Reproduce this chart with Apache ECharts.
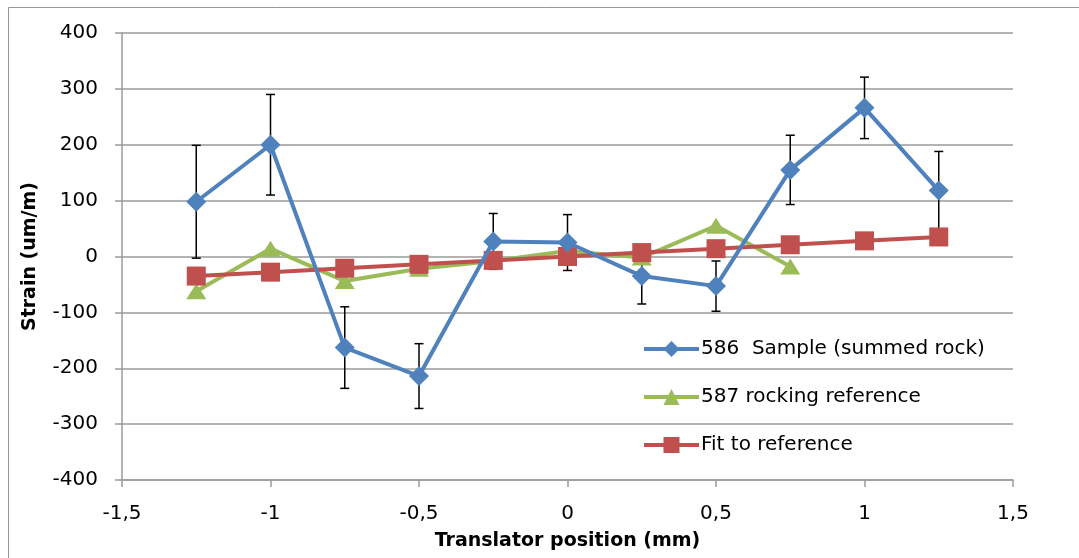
<!DOCTYPE html>
<html><head><meta charset="utf-8">
<script src="https://cdn.jsdelivr.net/npm/echarts@6/dist/echarts.min.js"></script>
<style>html,body{margin:0;padding:0;background:#fff}#c{width:1079px;height:558px}</style>
</head><body><div id="c"></div>
<script>
const positions = [-1.25, -1, -0.75, -0.5, -0.25, 0, 0.25, 0.5, 0.75, 1, 1.25];
const sampleValues = [98, 200, -163, -214, 27, 25, -35, -53, 155, 266, 118];
const sampleErrors = [101, 90, 73, 58, 50, 50, 50, 45, 62, 55, 70];
const refPositions = [-1.25, -1, -0.75, -0.5, -0.25, 0, 0.25, 0.5, 0.75];
const refValues = [-62, 14, -44, -22, -8, 10, -2, 55, -18];
const fitValues = [-35, -28, -21, -14, -7, 0, 7, 14, 21, 28, 35];
const yTicks = { min: -400, max: 400, step: 100 };
const xTicks = { min: -1.5, max: 1.5, step: 0.5 };
const names = ['586  Sample (summed rock)', '587 rocking reference', 'Fit to reference'];

const FONT = 'DejaVu Sans';
const chart = echarts.init(document.getElementById('c'), null, {renderer: 'canvas'});
const pair = (xs, ys) => xs.map((x, i) => [x, ys[i]]);
const errData = positions.map((x, i) => [x, sampleValues[i], sampleErrors[i]]);

chart.setOption({
  animation: false,
  backgroundColor: '#fff',
  textStyle: {fontFamily: FONT, color: '#000'},
  graphic: [{type: 'rect', shape: {x: 8.5, y: 7.5, width: 1200, height: 700},
    style: {fill: 'none', stroke: '#9a9a9a', lineWidth: 1}, silent: true, z: -10}],
  grid: {left: 122, right: 66, top: 33, bottom: 78, containLabel: false, outerBoundsMode: 'none'},
  legend: {
    data: names.map(n => ({name: n})),
    orient: 'vertical', left: 642, top: 339, padding: 0,
    itemWidth: 55, itemHeight: 20, itemGap: 28,
    lineStyle: {width: 4},
    textStyle: {fontFamily: FONT, fontSize: 20, color: '#000', padding: [0, 0, 0, -3]}
  },
  xAxis: {
    type: 'value', min: xTicks.min, max: xTicks.max, interval: xTicks.step,
    name: 'Translator position (mm)', nameLocation: 'middle', nameGap: 52,
    nameTextStyle: {fontFamily: FONT, fontSize: 19, fontWeight: 'bold', color: '#000'},
    axisLine: {onZero: false, lineStyle: {color: '#9a9a9a', width: 1.5}},
    axisTick: {show: true, length: 7, lineStyle: {color: '#9a9a9a', width: 1.5}},
    axisLabel: {fontFamily: FONT, fontSize: 20, color: '#000', margin: 24,
      formatter: v => String(v).replace('.', ',')},
    splitLine: {show: false}
  },
  yAxis: {
    type: 'value', min: yTicks.min, max: yTicks.max, interval: yTicks.step,
    name: 'Strain (um/m)', nameLocation: 'middle', nameGap: 82, nameRotate: 90,
    nameTextStyle: {fontFamily: FONT, fontSize: 19, fontWeight: 'bold', color: '#000'},
    axisLine: {show: true, onZero: false, lineStyle: {color: '#9a9a9a', width: 1.5}},
    axisTick: {show: true, length: 7, lineStyle: {color: '#9a9a9a', width: 1.5}},
    axisLabel: {fontFamily: FONT, fontSize: 20, color: '#000', margin: 24},
    splitLine: {show: true, lineStyle: {color: '#9a9a9a', width: 1.5}}
  },
  series: [
    {
      type: 'custom', name: 'err', z: 1, silent: true,
      data: errData,
      renderItem: (params, api) => {
        const x = api.value(0), y = api.value(1), e = api.value(2);
        const top = api.coord([x, y + e]);
        const bot = api.coord([x, y - e]);
        const cw = 4.5;
        const st = {stroke: '#000', lineWidth: 1.5};
        return {type: 'group', children: [
          {type: 'line', shape: {x1: top[0], y1: top[1], x2: bot[0], y2: bot[1]}, style: st},
          {type: 'line', shape: {x1: top[0] - cw, y1: top[1], x2: top[0] + cw, y2: top[1]}, style: st},
          {type: 'line', shape: {x1: bot[0] - cw, y1: bot[1], x2: bot[0] + cw, y2: bot[1]}, style: st}
        ]};
      }
    },
    {
      type: 'line', name: names[1], data: pair(refPositions, refValues), z: 3,
      symbol: 'triangle', symbolSize: [20, 16],
      itemStyle: {color: '#9BBB59'}, lineStyle: {color: '#9BBB59', width: 4}
    },
    {
      type: 'line', name: names[2], data: pair(positions, fitValues), z: 4,
      symbol: 'rect', symbolSize: 19,
      itemStyle: {color: '#C0504D'}, lineStyle: {color: '#C0504D', width: 4}
    },
    {
      type: 'line', name: names[0], data: pair(positions, sampleValues), z: 5,
      symbol: 'diamond', symbolSize: 20,
      itemStyle: {color: '#4F81BD'}, lineStyle: {color: '#4F81BD', width: 4}
    }
  ]
});
</script></body></html>
